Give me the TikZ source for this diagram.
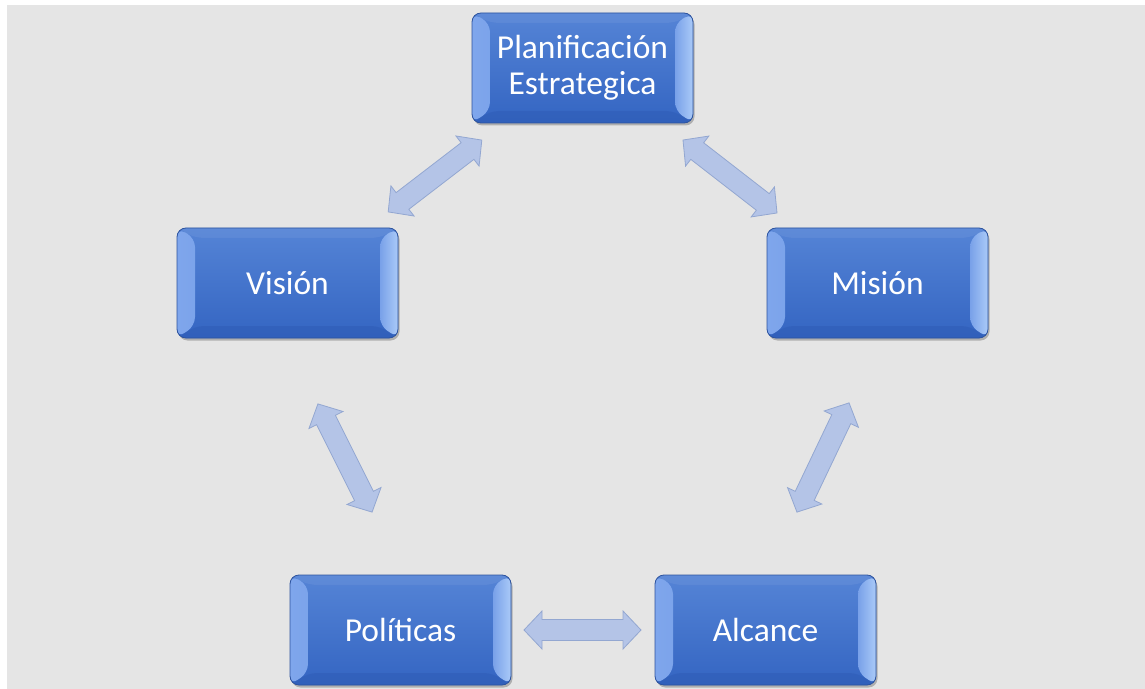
\documentclass[tikz,border=0pt]{standalone}
\usepackage{fontspec}
\newfontfamily\carlito{Carlito}
\usetikzlibrary{shadows}
\definecolor{bg}{HTML}{E5E5E5}
\definecolor{boxtop}{HTML}{5584D6}
\definecolor{boxbot}{HTML}{3465C2}
\definecolor{boxedge}{HTML}{2D539E}
\definecolor{bevL}{HTML}{7FA6EC}
\definecolor{bevR}{HTML}{AACAF8}
\definecolor{bevB}{HTML}{2F5CB5}
\definecolor{arrfill}{HTML}{B4C4E7}
\definecolor{arredge}{HTML}{93A7D1}
\tikzset{
  box/.style={rounded corners=9bp, minimum width=221bp, minimum height=110bp,
    draw=boxedge, line width=0.8bp, top color=boxtop, bottom color=boxbot,
    text=white, align=center, font=\carlito\fontsize{33.5bp}{36bp}\selectfont,
    drop shadow={shadow xshift=1.5bp, shadow yshift=-2.5bp, opacity=0.35, fill=black!70},
    path picture={
      \shade[left color=bevL, right color=boxtop!90!bevL]
        (path picture bounding box.north west) --
        ([xshift=18bp,yshift=-10bp]path picture bounding box.north west) --
        ([xshift=18bp,yshift=12bp]path picture bounding box.south west) --
        (path picture bounding box.south west) -- cycle;
      \shade[right color=bevR, left color=bevL!85!boxtop]
        (path picture bounding box.north east) --
        ([xshift=-18bp,yshift=-10bp]path picture bounding box.north east) --
        ([xshift=-18bp,yshift=12bp]path picture bounding box.south east) --
        (path picture bounding box.south east) -- cycle;
      \fill[bevB, opacity=0.5]
        (path picture bounding box.south west) --
        ([xshift=18bp,yshift=12bp]path picture bounding box.south west) --
        ([xshift=-18bp,yshift=12bp]path picture bounding box.south east) --
        (path picture bounding box.south east) -- cycle;
      \fill[white, opacity=0.06]
        (path picture bounding box.north west) --
        ([xshift=18bp,yshift=-10bp]path picture bounding box.north west) --
        ([xshift=-18bp,yshift=-10bp]path picture bounding box.north east) --
        (path picture bounding box.north east) -- cycle;
    }},
  pics/dbl/.style={code={
    \def\L{#1}
    \filldraw[fill=arrfill, draw=arredge, line width=0.8bp, line join=miter]
      ({-\L},0) -- ({-\L+18},-19) -- ({-\L+18},-10.5) -- ({\L-18},-10.5) --
      ({\L-18},-19) -- ({\L},0) -- ({\L-18},19) -- ({\L-18},10.5) --
      ({-\L+18},10.5) -- ({-\L+18},19) -- cycle;
  }}
}
\begin{document}
\begin{tikzpicture}[x=1bp,y=-1bp]
\useasboundingbox (0,0) rectangle (1145,689);
\fill[white] (0,0) rectangle (1145,689);
\fill[bg] (7,5) rectangle (1145,689);

\node[box] (plan) at (582.5,68) {Planificación\\Estrategica};
\node[box] (vision) at (287.5,283) {Visión};
\node[box] (mision) at (877.5,283) {Misión};
\node[box] (politicas) at (400.5,630) {Políticas};
\node[box] (alcance) at (765.5,630) {Alcance};

\pic[rotate=37.5] at (435,176) {dbl=59};
\pic[rotate=-37.8] at (730,176.5) {dbl=59.5};
\pic[rotate=-63.4] at (345,458) {dbl=60.5};
\pic[rotate=64.5] at (823,457.5) {dbl=60.5};
\pic at (582.5,630) {dbl=58.5};
\end{tikzpicture}
\end{document}
